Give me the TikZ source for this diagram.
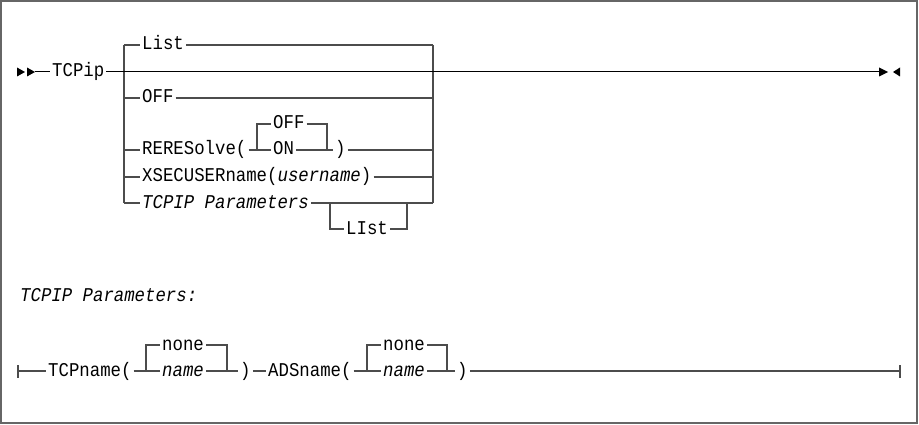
\documentclass[tikz,border=0pt]{standalone}
\usepackage{fontspec}
\setmonofont{Liberation Mono}[FakeStretch=0.89]
\begin{document}
\begin{tikzpicture}[x=1pt,y=-1pt,
	nodes={anchor=west, inner xsep=2pt, inner ysep=0pt, text height=15pt, text depth=5pt,
		font=\ttfamily\fontsize{19.5}{20}\selectfont},
	rail/.style={draw=black!70, line width=1.3pt},
	mainrail/.style={draw=black, line width=1pt}]
		\useasboundingbox (0,0) rectangle (919,425);
		\draw[black!60, line width=1.5pt] (1,1) rectangle (917,423);
		\coordinate (s) at (17,72);
		\coordinate (s2) at (35,72);
		\coordinate (e) at (879,72);
		\fill (s) ++(0,-4.5) -- ++(8,4.5) -- ++(-8,4.5) -- cycle;
		\fill (s) ++(10,-4.5) -- ++(8,4.5) -- ++(-8,4.5) -- cycle;
		\fill (e) ++(0,-4.5) -- ++(9,4.5) -- ++(-9,4.5) -- cycle;
		\fill (e) ++(21,-4.5) -- ++(-7,4.5) -- ++(7,4.5) -- cycle;
		\node (tcp) at (50,72) {TCPip};
		\coordinate (stl) at (124,45);
		\coordinate (sbl) at (124,203);
		\coordinate (str) at (433,45);
		\coordinate (sbr) at (433,203);
		\node (list) at (140,45) {List};
		\node (off) at (140,98) {OFF};
		\node (reres) at (140,150) {RERESolve(};
		\node (xsec) at (140,177) {XSECUSERname(\textit{username})};
		\node (parms) at (140,203) {\textit{TCPIP Parameters}};
		\node (roff) at (271,124) {OFF};
		\node (ron) at (271,150) {ON};
		\node (rp) at (333,150) {)};
		\coordinate (otl) at (257,124);
		\coordinate (obl) at (257,150);
		\coordinate (otr) at (327,124);
		\coordinate (obr) at (327,150);
		\node (plist) at (344,229) {LIst};
		\coordinate (ltl) at (330,203);
		\coordinate (ltr) at (407,203);
		\draw[rail] (stl) -- (sbl);
		\draw[rail] (str) -- (sbr);
		\foreach \r in {list,off,reres,xsec,parms}
			\draw[rail] (stl |- \r.west) -- (\r.west);
		\foreach \r in {list,off,rp,xsec,parms}
			\draw[rail] (\r.east) -- (str |- \r.east);
		\draw[rail] (reres.east) -- (ron.west);
		\draw[rail] (ron.east) -- (rp.west);
		\draw[rail] (obl) |- (roff.west);
		\draw[rail] (roff.east) -| (obr);
		\draw[rail] (ltl) |- (plist.west);
		\draw[rail] (plist.east) -| (ltr);
		\draw[mainrail] (s2) -- (tcp.west);
		\draw[mainrail] (tcp.east) -- (e);
		\node (ptitle) at (18,296) {\textit{TCPIP Parameters:}};
		\coordinate (ps) at (18,371);
		\coordinate (pe) at (900,371);
		\node (tn) at (46,371) {TCPname(};
		\node (n1) at (160,345) {none};
		\node (m1) at (160,371) {\textit{name}};
		\node (q1) at (238,371) {)};
		\node (an) at (266,371) {ADSname(};
		\node (n2) at (381,345) {none};
		\node (m2) at (381,371) {\textit{name}};
		\node (q2) at (455,371) {)};
		\coordinate (b1l) at (146,371);
		\coordinate (b1r) at (227,371);
		\coordinate (b2l) at (367,371);
		\coordinate (b2r) at (447,371);
		\draw[rail] ([yshift=-6.5pt]ps) -- ([yshift=6.5pt]ps);
		\draw[rail] ([yshift=-6.5pt]pe) -- ([yshift=6.5pt]pe);
		\draw[rail] (ps) -- (tn.west);
		\draw[rail] (tn.east) -- (m1.west);
		\draw[rail] (m1.east) -- (q1.west);
		\draw[rail] (b1l) |- (n1.west);
		\draw[rail] (n1.east) -| (b1r);
		\draw[rail] (q1.east) -- (an.west);
		\draw[rail] (an.east) -- (m2.west);
		\draw[rail] (m2.east) -- (q2.west);
		\draw[rail] (b2l) |- (n2.west);
		\draw[rail] (n2.east) -| (b2r);
		\draw[rail] (q2.east) -- (pe);
\end{tikzpicture}
\end{document}
